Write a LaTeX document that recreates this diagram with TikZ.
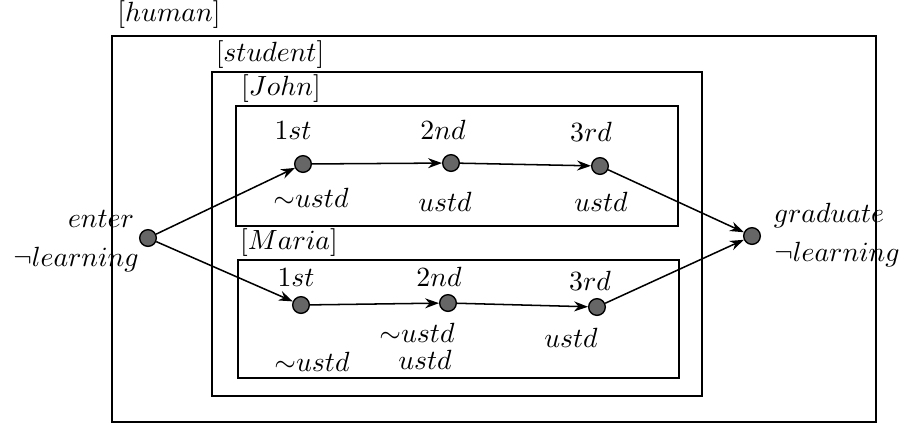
\documentclass[tikz,border=0pt]{standalone}
\usetikzlibrary{arrows.meta}
\begin{document}
\begin{tikzpicture}[x=0.36pt,y=-0.36pt,
  every node/.style={font=\fontsize{10.3}{12}\selectfont},
  st/.style={circle,draw=black,fill=black!60,inner sep=0pt,minimum size=6pt,line width=0.5pt},
  bx/.style={draw=black,line width=0.6pt},
  lbl/.style={inner sep=0pt},
  ar/.style={-{Stealth[length=5pt,width=3.6pt]},line width=0.55pt}]
\useasboundingbox (0,0) rectangle (908,427);
% boxes
\draw[bx] (112,36) rectangle (876,422);
\draw[bx] (212,72) rectangle (702,396);
\draw[bx] (236,106) rectangle (678,226);
\draw[bx] (238,260) rectangle (679,378);
% box labels
\node[lbl] (lh) at (169,15) {$[human]$};
\node[lbl] (ls) at (270,55) {$[student]$};
\node[lbl] (lj) at (281,89) {$[John]$};
\node[lbl] (lm) at (289,243) {$[Maria]$};
% states
\node[st] (en) at (148,238) {};
\node[st] (gr) at (752,236) {};
\node[st] (j1) at (303,164) {};
\node[st] (j2) at (451,163) {};
\node[st] (j3) at (600,166) {};
\node[st] (m1) at (301,305) {};
\node[st] (m2) at (448,303) {};
\node[st] (m3) at (597,307) {};
% texts
\node[lbl] (ten) at (101,219) {$enter$};
\node[lbl] (tenl) at (76,260) {$\neg learning$};
\node[lbl] (tgr) at (829,216) {$graduate$};
\node[lbl] (tgrl) at (837,255) {$\neg learning$};
\node[lbl] (tj1) at (293,131) {$1st$};
\node[lbl] (tj2) at (443,130) {$2nd$};
\node[lbl] (tj3) at (591,132) {$3rd$};
\node[lbl] (bj1) at (311,198) {${\sim}ustd$};
\node[lbl] (bj2) at (445,202) {$ustd$};
\node[lbl] (bj3) at (601,202) {$ustd$};
\node[lbl] (tm1) at (296,278) {$1st$};
\node[lbl] (tm2) at (439,277) {$2nd$};
\node[lbl] (tm3) at (590,281) {$3rd$};
\node[lbl] (bm1) at (312,362) {${\sim}ustd$};
\node[lbl] (bm2a) at (417,333) {${\sim}ustd$};
\node[lbl] (bm2b) at (425,360) {$ustd$};
\node[lbl] (bm3) at (571,338) {$ustd$};
% edges
\draw[ar] (en) -- (j1);
\draw[ar] (en) -- (m1);
\draw[ar] (j1) -- (j2);
\draw[ar] (j2) -- (j3);
\draw[ar] (j3) -- (gr);
\draw[ar] (m1) -- (m2);
\draw[ar] (m2) -- (m3);
\draw[ar] (m3) -- (gr);
\end{tikzpicture}
\end{document}
